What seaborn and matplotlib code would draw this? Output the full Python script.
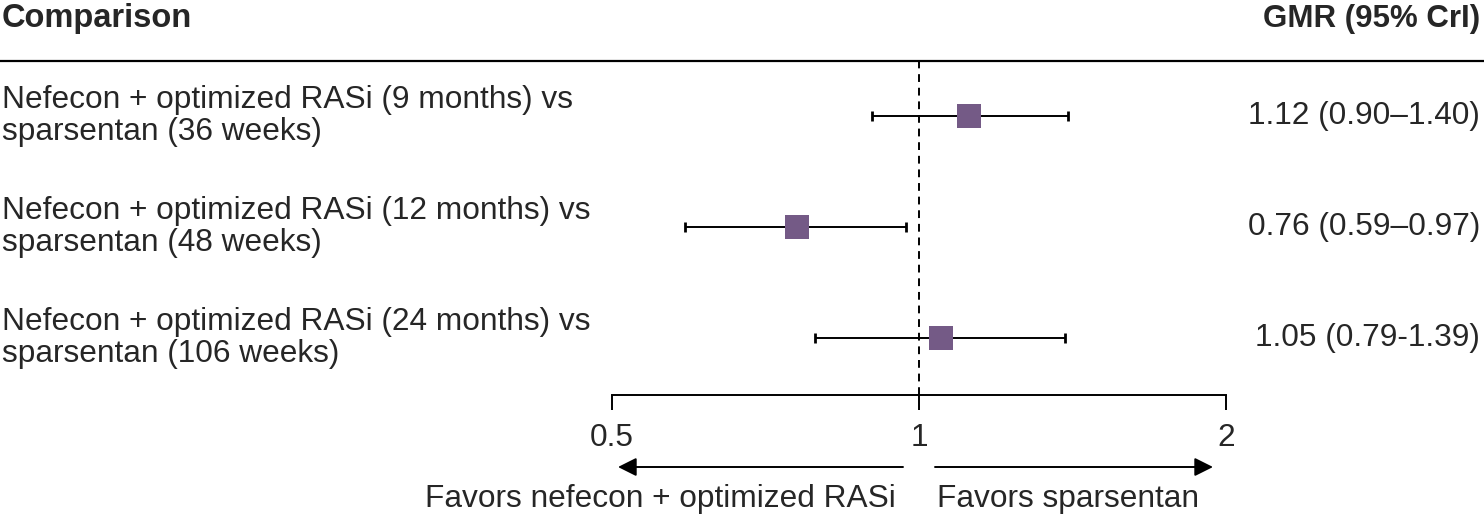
import numpy as np
import pandas as pd
import matplotlib
matplotlib.use("Agg")
import matplotlib.pyplot as plt
import matplotlib.transforms as mtransforms
import seaborn as sns

# ---- data ----
comparisons = [
    "Nefecon + optimized RASi (9 months) vs\nsparsentan (36 weeks)",
    "Nefecon + optimized RASi (12 months) vs\nsparsentan (48 weeks)",
    "Nefecon + optimized RASi (24 months) vs\nsparsentan (106 weeks)",
]
gmr = [1.12, 0.76, 1.05]
lower = [0.90, 0.59, 0.79]
upper = [1.40, 0.97, 1.39]
gmr_labels = ["1.12 (0.90\u20131.40)", "0.76 (0.59\u20130.97)", "1.05 (0.79-1.39)"]
tick_values = [0.5, 1, 2]
tick_labels = ["0.5", "1", "2"]
header_left = "Comparison"
header_right = "GMR (95% CrI)"
favor_left = "Favors nefecon + optimized RASi"
favor_right = "Favors sparsentan"

df = pd.DataFrame({"row": np.arange(len(gmr)), "gmr": gmr, "lo": lower, "hi": upper})

sns.set_theme(style="white")
plt.rcParams["font.family"] = ["Liberation Sans", "DejaVu Sans"]

W, H = 1484, 520
fig = plt.figure(figsize=(W / 100, H / 100), dpi=100)
ax = fig.add_axes([612 / W, 1 - 395 / H, (1226 - 612) / W, (395 - 61) / H])
ax.set_xscale("log")
ax.set_xlim(0.5, 2)
ax.set_ylim(2.514, -0.495)

purple = "#745a86"
fs = 22.8

# error bars
ax.errorbar(df["gmr"], df["row"],
            xerr=[df["gmr"] - df["lo"], df["hi"] - df["gmr"]],
            fmt="none", ecolor="black", elinewidth=1.4, capsize=3.6, capthick=2, zorder=2)
sns.scatterplot(data=df, x="gmr", y="row", marker="s", s=300, color=purple,
                edgecolor="none", ax=ax, zorder=3, legend=False)

# reference line
ax.axvline(1, color="black", lw=1.4, ls=(0, (4, 3)), zorder=1)

# axes styling
for side in ["top", "left", "right"]:
    ax.spines[side].set_visible(False)
ax.spines["bottom"].set_linewidth(1.4)
ax.spines["bottom"].set_color("black")
ax.set_xticks(tick_values)
ax.set_xticklabels(tick_labels, fontsize=fs)
ax.xaxis.set_minor_locator(matplotlib.ticker.NullLocator())
ax.tick_params(axis="x", direction="out", length=11, width=1.4, color="black", pad=9,
               bottom=True)
ax.set_yticks([])
ax.set_xlabel("")
ax.set_ylabel("")

# row labels and GMR values
trans = mtransforms.blended_transform_factory(fig.transFigure, ax.transData)
for i, (lab, val) in enumerate(zip(comparisons, gmr_labels)):
    ax.text(2 / W, i, lab, transform=trans, ha="left", va="center",
            fontsize=fs, linespacing=1.12, clip_on=False)
    ax.text(1480 / W, i, val, transform=trans, ha="right", va="center",
            fontsize=fs, clip_on=False)

# headers
fig.text(2 / W, 1 - 19 / H, header_left, ha="left", va="center", fontsize=23.5,
         fontweight="bold")
fig.text(1480 / W, 1 - 19 / H, header_right, ha="right", va="center", fontsize=22.5,
         fontweight="bold")
fig.add_artist(plt.Line2D([0, 1], [1 - 61 / H, 1 - 61 / H], transform=fig.transFigure,
                          color="black", lw=1.6))

# favor arrows
ya = 1 - 467 / H
ax.annotate("", xy=(618 / W, ya), xytext=(903 / W, ya), xycoords="figure fraction",
            arrowprops=dict(arrowstyle="-|>", color="black", lw=1.4, mutation_scale=28,
                            shrinkA=0, shrinkB=0))
ax.annotate("", xy=(1213 / W, ya), xytext=(935 / W, ya), xycoords="figure fraction",
            arrowprops=dict(arrowstyle="-|>", color="black", lw=1.4, mutation_scale=28,
                            shrinkA=0, shrinkB=0))
fig.text(896 / W, 1 - 499 / H, favor_left, ha="right", va="center", fontsize=fs)
fig.text(937 / W, 1 - 499 / H, favor_right, ha="left", va="center", fontsize=fs)

fig.savefig("out.png", dpi=100, facecolor="white")
